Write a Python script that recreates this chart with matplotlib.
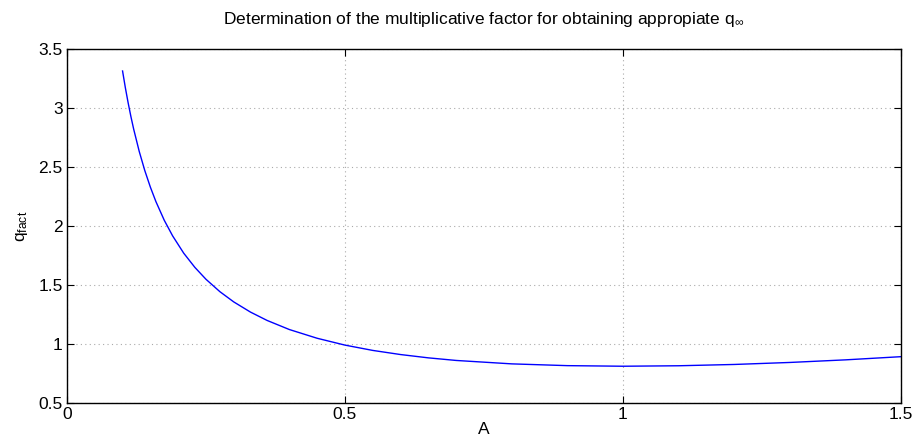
import matplotlib
matplotlib.use("Agg")
import matplotlib.pyplot as plt

plt.rcParams['font.family'] = ['Liberation Sans', 'DejaVu Sans']
plt.rcParams['mathtext.fontset'] = 'custom'
plt.rcParams['mathtext.rm'] = 'Liberation Sans'
plt.rcParams['mathtext.it'] = 'Liberation Sans'

# values (denser where it is steep)
A = [0.100, 0.105, 0.110, 0.115, 0.120, 0.130, 0.140, 0.150, 0.160, 0.175,
     0.190, 0.210, 0.230, 0.250, 0.275, 0.300, 0.330, 0.360, 0.400, 0.450,
     0.500, 0.550, 0.600, 0.650, 0.700, 0.800, 0.900, 1.000, 1.100, 1.200,
     1.300, 1.400, 1.500]
q_fact = [3.316, 3.175, 3.047, 2.930, 2.823, 2.634, 2.472, 2.332, 2.209, 2.051,
          1.919, 1.772, 1.652, 1.551, 1.446, 1.359, 1.273, 1.202, 1.125, 1.051,
          0.993, 0.948, 0.913, 0.885, 0.863, 0.834, 0.819, 0.814, 0.818, 0.829,
          0.846, 0.868, 0.895]

x_ticks = [0, 0.5, 1, 1.5]
x_labels = ['0', '0.5', '1', '1.5']
y_ticks = [0.5, 1, 1.5, 2, 2.5, 3, 3.5]
y_labels = ['0.5', '1', '1.5', '2', '2.5', '3', '3.5']

fig = plt.figure(figsize=(9.16, 4.44), dpi=100)
ax = fig.add_axes([0.0731, 0.0917, 0.9105, 0.7973])

ax.plot(A, q_fact, color='#0000ff', lw=1.0)

ax.set_xlim(0, 1.5)
ax.set_ylim(0.5, 3.5)
ax.set_xticks(x_ticks)
ax.set_xticklabels(x_labels)
ax.set_yticks(y_ticks)
ax.set_yticklabels(y_labels)
ax.tick_params(direction='in', top=True, right=True, length=5, width=0.8,
               labelsize=12.5, pad=3)
for s in ax.spines.values():
    s.set_linewidth(1.0)
ax.grid(True, linestyle=(0, (1, 3)), color='#aaaaaa', lw=0.8)

ax.set_title(r'Determination of the multiplicative factor for obtaining appropiate q$_\infty$',
             fontsize=12.5, pad=18)
ax.set_xlabel('A', fontsize=12.5, labelpad=0)
ax.set_ylabel(r'q$_{\mathrm{fact}}$', fontsize=12.5, labelpad=6)

fig.savefig('out.png', dpi=100)
